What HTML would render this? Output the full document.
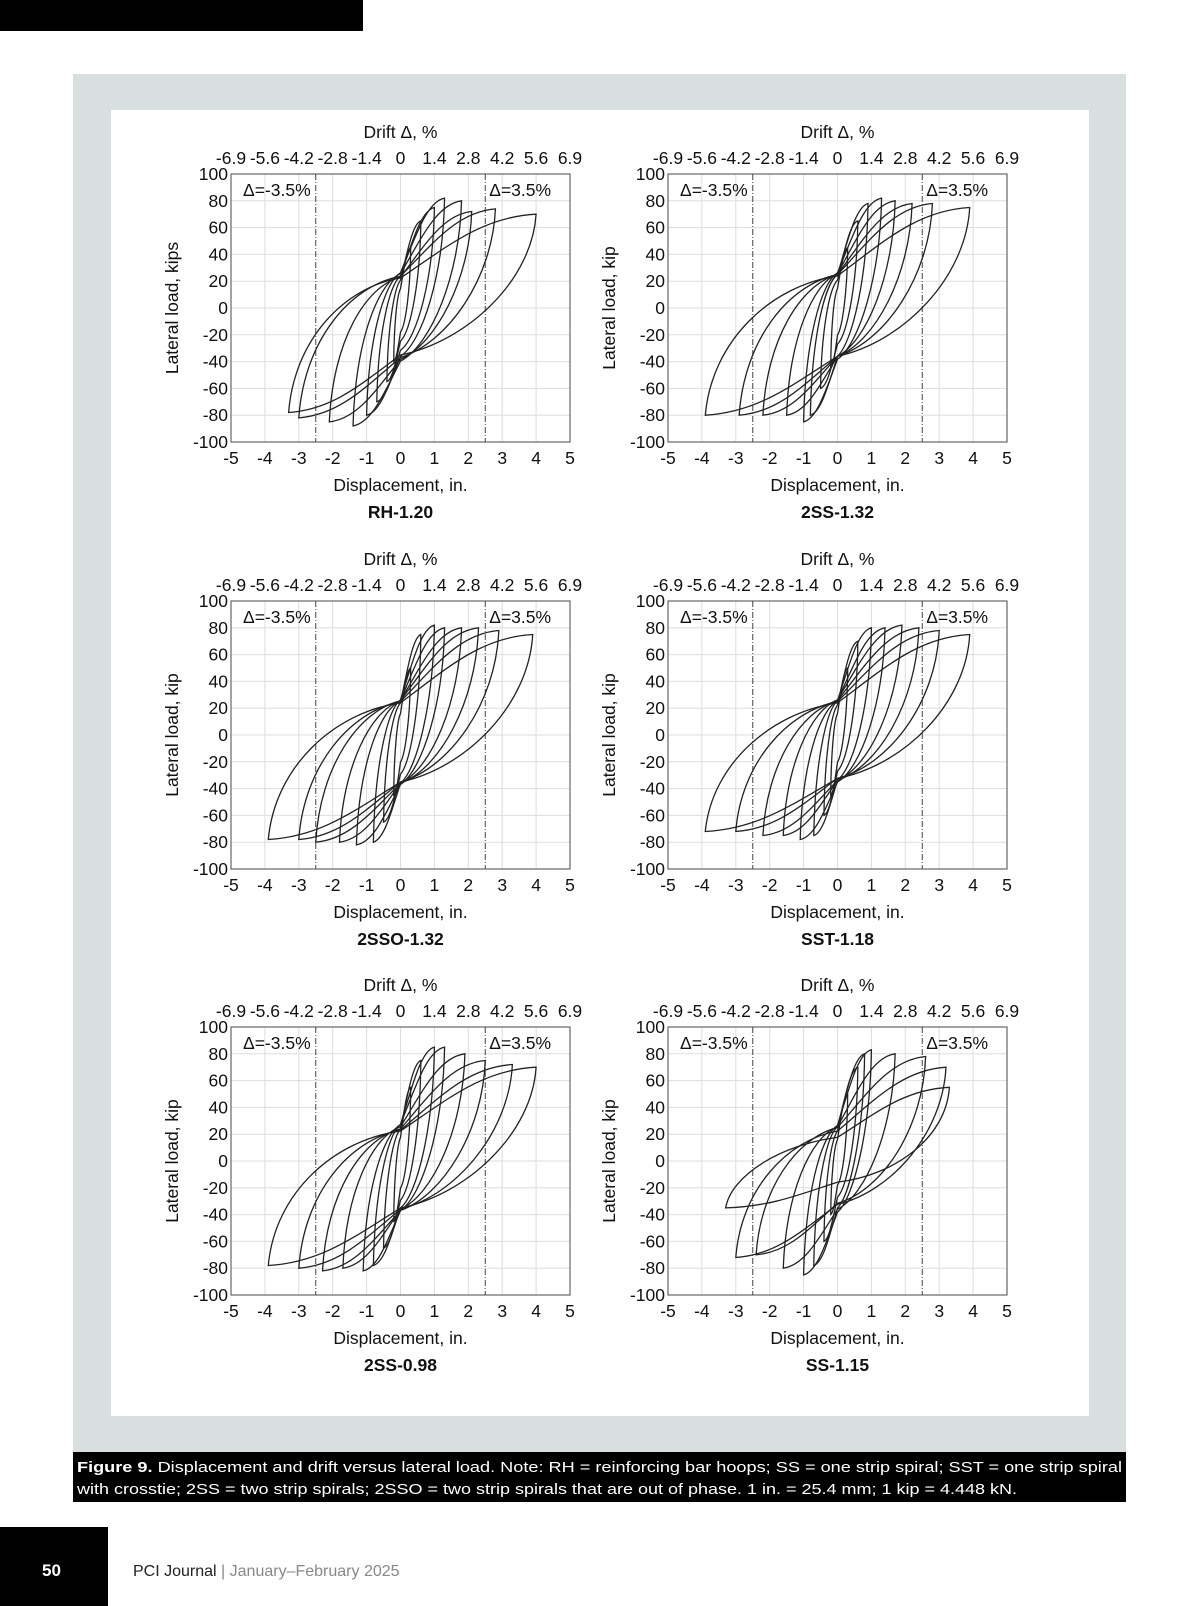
<!DOCTYPE html>
<html><head><meta charset="utf-8"><style>
body{margin:0;background:#fff;}
svg{display:block;font-family:"Liberation Sans",sans-serif;}
</style></head><body>
<svg id="page" width="1200" height="1606" viewBox="0 0 1200 1606" xmlns="http://www.w3.org/2000/svg">
<rect x="0" y="0" width="363" height="31" fill="#000"/>
<rect x="73" y="74" width="1053" height="1378" fill="#d8dfde"/>
<rect x="111" y="110" width="978" height="1306" fill="#fff"/>
<rect x="73" y="1452" width="1053" height="50" fill="#000"/>
<text x="77" y="1472" font-size="15" fill="#fff" textLength="1045" lengthAdjust="spacingAndGlyphs"><tspan font-weight="bold">Figure 9.</tspan> Displacement and drift versus lateral load. Note: RH = reinforcing bar hoops; SS = one strip spiral; SST = one strip spiral</text>
<text x="77" y="1494" font-size="15" fill="#fff" textLength="940" lengthAdjust="spacingAndGlyphs">with crosstie; 2SS = two strip spirals; 2SSO = two strip spirals that are out of phase. 1 in. = 25.4 mm; 1 kip = 4.448 kN.</text>
<rect x="0" y="1527" width="108" height="79" fill="#000"/>
<text x="42" y="1576" font-size="17" font-weight="bold" fill="#fff">50</text>
<text x="133" y="1576" font-size="16" fill="#222">PCI Journal <tspan fill="#888"> | January–February 2025</tspan></text>
<g id="charts"></g>
</svg>
<script>
var NS="http://www.w3.org/2000/svg";
var xTicks=[-5,-4,-3,-2,-1,0,1,2,3,4,5];
var driftLabels=["-6.9","-5.6","-4.2","-2.8","-1.4","0","1.4","2.8","4.2","5.6","6.9"];
var yTicks=[-100,-80,-60,-40,-20,0,20,40,60,80,100];
var chartNames=["RH-1.20","2SS-1.32","2SSO-1.32","SST-1.18","2SS-0.98","SS-1.15"];
var yTitles=["Lateral load, kips","Lateral load, kip","Lateral load, kip","Lateral load, kip","Lateral load, kip","Lateral load, kip"];
var driftLines=[-2.5,2.5];
// cycle peaks per chart
var posDisp=[[0.3,0.6,1.0,1.3,1.8,2.1,2.8,4.0],[0.3,0.6,0.9,1.3,1.7,2.2,2.8,3.9],[0.3,0.6,1.0,1.3,1.8,2.3,2.9,3.9],[0.3,0.6,1.0,1.4,1.9,2.4,3.0,3.9],[0.3,0.6,1.0,1.3,1.9,2.5,3.3,4.0],[0.3,0.6,0.8,1.0,1.7,2.6,3.2,3.3]];
var posLoad=[[45,65,75,82,80,72,74,70],[45,65,78,82,80,78,78,75],[50,75,82,80,80,80,78,75],[50,70,80,80,82,80,78,75],[55,75,85,85,80,75,72,70],[50,70,80,83,80,78,70,55]];
var negDisp=[[-0.2,-0.4,-0.7,-1.0,-1.4,-2.1,-3.0,-3.3],[-0.2,-0.5,-0.8,-1.0,-1.5,-2.2,-2.9,-3.9],[-0.2,-0.5,-0.8,-1.3,-1.8,-2.5,-3.0,-3.9],[-0.2,-0.4,-0.7,-1.1,-1.6,-2.2,-3.0,-3.9],[-0.2,-0.5,-0.8,-1.1,-1.7,-2.3,-3.0,-3.9],[-0.2,-0.4,-0.7,-1.0,-1.6,-2.4,-3.0,-3.3]];
var negLoad=[[-40,-55,-70,-80,-88,-85,-82,-78],[-45,-60,-80,-85,-80,-80,-80,-80],[-45,-65,-80,-82,-80,-80,-78,-78],[-45,-60,-75,-78,-75,-75,-72,-72],[-45,-65,-78,-82,-80,-82,-80,-78],[-40,-60,-78,-85,-80,-70,-72,-35]];

var lefts=[231,668], tops=[174,601,1027], PW=339, PH=268, FS=17.5;
var root=document.getElementById('charts');
function mk(tag,attrs,parent){var e=document.createElementNS(NS,tag);for(var k in attrs)e.setAttribute(k,attrs[k]);(parent||root).appendChild(e);return e;}
function txt(s,attrs,parent){var e=mk('text',attrs,parent);e.textContent=s;return e;}

for(var c=0;c<6;c++){
  var L=lefts[c%2],T=tops[Math.floor(c/2)];
  var g=mk('g',{});
  
  
  var X=function(v){return L+(v+5)/10*PW;};
  var Y=function(v){return T+(100-v)/200*PH;};
  for(var i=0;i<xTicks.length;i++){
    var gl=mk('line',{x1:X(xTicks[i]),x2:X(xTicks[i]),y1:T,y2:T+PH,stroke:'#ddd','stroke-width':1},g);
    
    
    var t=txt(String(xTicks[i]),{x:X(xTicks[i]),y:T+PH+22,'font-size':FS,'text-anchor':'middle',fill:'#111'},g);
    
    
    var d=txt(driftLabels[i],{x:X(xTicks[i]),y:T-10,'font-size':FS,'text-anchor':'middle',fill:'#111'},g);
    
    
  }
  for(var j=0;j<yTicks.length;j++){
    var hl=mk('line',{x1:L,x2:L+PW,y1:Y(yTicks[j]),y2:Y(yTicks[j]),stroke:'#ddd','stroke-width':1},g);
    
    
    var yt=txt(String(yTicks[j]),{x:L-3,y:Y(yTicks[j])+6,'font-size':FS,'text-anchor':'end',fill:'#111'},g);
    
    
  }
  var fr=mk('rect',{x:L,y:T,width:PW,height:PH,fill:'none',stroke:'#666','stroke-width':1.2},g);
  
  
  for(var k=0;k<driftLines.length;k++){
    var dl=mk('line',{x1:X(driftLines[k]),x2:X(driftLines[k]),y1:T,y2:T+PH,stroke:'#444','stroke-width':1,'stroke-dasharray':'6,2,1,2'},g);
    
    
  }
  var a1=txt('Δ=-3.5%',{x:L+12,y:T+22,'font-size':FS,fill:'#111'},g);
  
  
  var a2=txt('Δ=3.5%',{x:X(2.5)+4,y:T+22,'font-size':FS,fill:'#111'},g);
  
  
  var dt=txt('Drift Δ, %',{x:L+PW/2,y:T-36,'font-size':FS,'text-anchor':'middle',fill:'#111'},g);
  
  
  var xt=txt('Displacement, in.',{x:L+PW/2,y:T+PH+49,'font-size':FS,'text-anchor':'middle',fill:'#111'},g);
  
  
  var nm=txt(chartNames[c],{x:L+PW/2,y:T+PH+76,'font-size':FS,'font-weight':'bold','text-anchor':'middle',fill:'#111'},g);
  
  
  var cx=L-53,cy=T+PH/2;
  var yl=txt(yTitles[c],{x:cx,y:cy,'font-size':FS,'text-anchor':'middle',fill:'#111',transform:'rotate(-90 '+cx+' '+cy+')'},g);
  
  
  var pd=posDisp[c],pl=posLoad[c],nd=negDisp[c],nl=negLoad[c];
  for(var n=0;n<pd.length;n++){
    var dp=pd[n],fp=pl[n],dn=nd[n],fn=nl[n];
    var cu=0.32*fp, cl=0.45*fn;
    var p='M'+X(dn)+','+Y(fn)+
      ' C'+X(dn*0.95)+','+Y(fn*0.3)+' '+X(dn*0.5)+','+Y(cu*0.7)+' '+X(0)+','+Y(cu)+
      ' C'+X(dp*0.35)+','+Y(cu+(fp-cu)*0.5)+' '+X(dp*0.6)+','+Y(fp*0.97)+' '+X(dp)+','+Y(fp)+
      ' C'+X(dp*0.97)+','+Y(fp*0.3)+' '+X(dp*0.5)+','+Y(cl*0.7)+' '+X(0)+','+Y(cl)+
      ' C'+X(dn*0.35)+','+Y(cl+(fn-cl)*0.5)+' '+X(dn*0.6)+','+Y(fn*0.97)+' '+X(dn)+','+Y(fn)+'Z';
    var lp=mk('path',{d:p,fill:'none',stroke:'#222','stroke-width':1.3},g);
    
    
  }
}
</script>
</body></html>
